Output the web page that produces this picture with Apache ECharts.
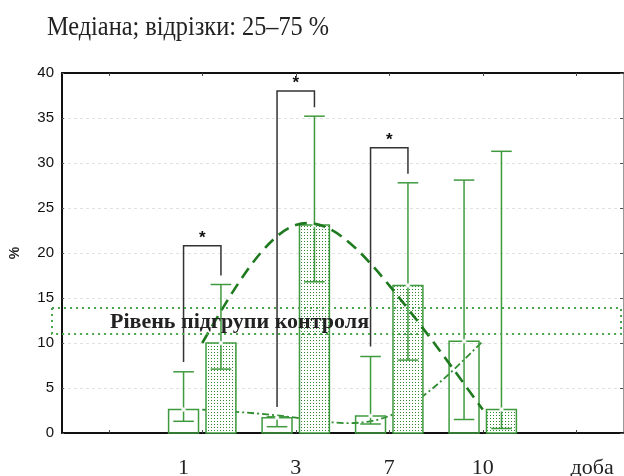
<!DOCTYPE html>
<html>
<head>
<meta charset="utf-8">
<script src="https://cdn.jsdelivr.net/npm/echarts@6/dist/echarts.min.js"></script>
<style>
  html, body { margin: 0; padding: 0; background: #fff; }
  #chart { width: 624px; height: 476px; }
</style>
</head>
<body>
<div id="chart"></div>
<script>
// Days of observation
const days = ['1', '3', '7', '10'];

// Outline bars: median with 25–75 % whiskers
const openMedian = [2.6, 1.7, 1.9, 10.2];
const openQ1 = [1.3, 0.7, 1.0, 1.5];
const openQ3 = [6.8, 1.8, 8.5, 28.1];

// Dotted bars: median with 25–75 % whiskers
const dotMedian = [10.0, 23.1, 16.4, 2.6];
const dotQ1 = [7.1, 16.8, 8.1, 0.5];
const dotQ3 = [16.5, 35.2, 27.8, 31.3];

// Significance brackets (days 1, 3, 7): bracket height
const bracketTop = [20.8, 38.0, 31.7];

// Control subgroup level: band bounds
const controlBand = [11.0, 13.9];

// Y axis ticks
const yTicks = [0, 5, 10, 15, 20, 25, 30, 35, 40];

const GREEN = '#3f9a3f';
const DARK_GREEN = '#1f7a1f';
const OFFSET = 0.2;      // half-distance between the two bars of a day
const BAR_W = 0.32;      // bar width in axis units
const CAP_W = 0.22;      // whisker cap width in axis units

// Label placement along the day axis
const dayLabelAt = [0.8, 2, 3, 4];
const unitLabelAt = 5.17;
const xLabelMap = {};
dayLabelAt.forEach((v, i) => { xLabelMap[v] = days[i]; });
xLabelMap[unitLabelAt] = 'доба';

function dotPattern() {
  const c = document.createElement('canvas');
  c.width = 3; c.height = 3;
  const ctx = c.getContext('2d');
  ctx.fillStyle = '#ffffff';
  ctx.fillRect(0, 0, 3, 3);
  ctx.fillStyle = '#2e8a2e';
  ctx.fillRect(1, 1, 1, 1);
  return c;
}
const PATTERN = dotPattern();

// Natural cubic spline through pixel points, returned as SVG path data
function splinePath(pts) {
  const n = pts.length;
  const x = pts.map(p => p[0]), y = pts.map(p => p[1]);
  const h = [];
  for (let i = 0; i < n - 1; i++) h.push(x[i + 1] - x[i]);
  const M = new Array(n).fill(0);
  if (n > 2) {
    const m = n - 2;
    const a = [], b = [], c = [], d = [];
    for (let i = 1; i <= m; i++) {
      a.push(h[i - 1]);
      b.push(2 * (h[i - 1] + h[i]));
      c.push(h[i]);
      d.push(6 * ((y[i + 1] - y[i]) / h[i] - (y[i] - y[i - 1]) / h[i - 1]));
    }
    for (let i = 1; i < m; i++) {
      const w = a[i] / b[i - 1];
      b[i] -= w * c[i - 1];
      d[i] -= w * d[i - 1];
    }
    const sol = new Array(m);
    sol[m - 1] = d[m - 1] / b[m - 1];
    for (let i = m - 2; i >= 0; i--) sol[i] = (d[i] - c[i] * sol[i + 1]) / b[i];
    for (let i = 0; i < m; i++) M[i + 1] = sol[i];
  }
  let path = 'M' + x[0] + ',' + y[0];
  for (let i = 0; i < n - 1; i++) {
    const s = (y[i + 1] - y[i]) / h[i];
    const d0 = s - h[i] * (2 * M[i] + M[i + 1]) / 6;
    const d1 = s + h[i] * (M[i] + 2 * M[i + 1]) / 6;
    const k = h[i] / 3;
    path += ' C' + (x[i] + k) + ',' + (y[i] + d0 * k) + ' ' +
      (x[i + 1] - k) + ',' + (y[i + 1] - d1 * k) + ' ' + x[i + 1] + ',' + y[i + 1];
  }
  return path;
}

function trendRenderer(values, style) {
  return function (params, api) {
    if (params.dataIndex !== 0) return null;
    const pts = values.map((v, i) => api.coord([i + 1, v]));
    return {
      type: 'path',
      shape: { pathData: splinePath(pts) },
      style: Object.assign({ fill: null }, style)
    };
  };
}

function boxRenderer(dotted) {
  return function (params, api) {
    const g = api.value(0);
    const med = api.value(1), q1 = api.value(2), q3 = api.value(3);
    const x = g + (dotted ? OFFSET : -OFFSET);
    const top = api.coord([x, med]);
    const base = api.coord([x, 0]);
    const lo = api.coord([x, q1]);
    const hi = api.coord([x, q3]);
    const w = api.size([BAR_W, 0])[0];
    const cw = api.size([CAP_W, 0])[0];
    const cx = top[0];
    const lineStyle = { stroke: GREEN, lineWidth: 1.5 };
    return {
      type: 'group',
      children: [
        {
          type: 'rect',
          shape: { x: cx - w / 2, y: top[1], width: w, height: base[1] - top[1] },
          style: {
            fill: dotted ? { image: PATTERN, repeat: 'repeat' } : 'rgba(0,0,0,0)',
            stroke: GREEN, lineWidth: 1.5
          }
        },
        { type: 'line', shape: { x1: cx, y1: lo[1], x2: cx, y2: hi[1] }, style: lineStyle },
        { type: 'line', shape: { x1: cx - cw / 2, y1: hi[1], x2: cx + cw / 2, y2: hi[1] }, style: lineStyle },
        { type: 'line', shape: { x1: cx - cw / 2, y1: lo[1], x2: cx + cw / 2, y2: lo[1] }, style: lineStyle },
        { type: 'circle', shape: { cx: cx, cy: top[1], r: 2 }, style: { fill: '#ffffff', stroke: '#d6ead6', lineWidth: 0.5 } }
      ]
    };
  };
}

function bracketRenderer(params, api) {
  const g = api.value(0);
  const oq3 = api.value(1), dq3 = api.value(2), topV = api.value(3);
  const p0 = api.coord([g - OFFSET, oq3 + 1.1]);
  const p1 = api.coord([g - OFFSET, topV]);
  const p2 = api.coord([g + OFFSET, topV]);
  const p3 = api.coord([g + OFFSET, dq3 + 1.0]);
  return {
    type: 'group',
    children: [
      { type: 'polyline', shape: { points: [p0, p1, p2, p3] }, style: { stroke: '#333', lineWidth: 1.5, fill: null } },
      {
        type: 'text',
        style: {
          text: '*', x: (p1[0] + p2[0]) / 2, y: p1[1] + 1,
          align: 'center', verticalAlign: 'bottom',
          font: 'bold 17px "Liberation Sans"', fill: '#111'
        }
      }
    ]
  };
}

function bandRenderer(params, api) {
  const cs = params.coordSys;
  const lo = api.coord([0, api.value(0)])[1];
  const hi = api.coord([0, api.value(1)])[1];
  return {
    type: 'group',
    children: [
      {
        type: 'rect',
        shape: { x: cs.x - 10, y: hi, width: cs.width + 8, height: lo - hi },
        style: { fill: null, stroke: '#4aa64a', lineWidth: 2, lineDash: [2, 4] }
      },
      {
        type: 'text',
        style: {
          text: 'Рівень підгрупи контроля', x: cs.x + 48, y: (lo + hi) / 2 + 1,
          verticalAlign: 'middle', font: 'bold 22px "Liberation Serif"', fill: '#222'
        }
      }
    ]
  };
}

const openData = days.map((d, i) => [i + 1, openMedian[i], openQ1[i], openQ3[i]]);
const dotData = days.map((d, i) => [i + 1, dotMedian[i], dotQ1[i], dotQ3[i]]);
const bracketData = bracketTop.map((t, i) => [i + 1, openQ3[i], dotQ3[i], t]);

const chart = echarts.init(document.getElementById('chart'), null, { renderer: 'canvas' });

chart.setOption({
  animation: false,
  backgroundColor: '#ffffff',
  graphic: [
    {
      type: 'text', x: 47, y: 14, scaleX: 0.9,
      style: { text: 'Медіана; відрізки: 25–75 %', font: '27px "Liberation Serif"', fill: '#222' }
    }
  ],
  grid: { left: 62, top: 73, right: 1, bottom: 43, containLabel: false, outerBoundsMode: 'none' },
  xAxis: [
    {
      type: 'value', min: -0.5, max: 5.5, position: 'bottom',
      axisLine: { onZero: false, lineStyle: { color: '#111', width: 2 } },
      axisTick: { show: true, inside: true, length: 3, customValues: [0, 1, 2, 3, 4, 5], lineStyle: { color: '#444' } },
      axisLabel: {
        customValues: dayLabelAt.concat([unitLabelAt]),
        formatter: v => xLabelMap[v] || '',
        margin: 24,
        fontFamily: 'Liberation Serif', fontSize: 22, color: '#222'
      },
      splitLine: { show: false }
    },
    {
      type: 'value', min: -0.5, max: 5.5, position: 'top',
      axisLine: { onZero: false, lineStyle: { color: '#111', width: 2 } },
      axisTick: { show: true, inside: true, length: 3, customValues: [0, 1, 2, 3, 4, 5], lineStyle: { color: '#444' } },
      axisLabel: { show: false },
      splitLine: { show: false }
    }
  ],
  yAxis: [
    {
      type: 'value', min: yTicks[0], max: yTicks[yTicks.length - 1], interval: 5, position: 'left',
      name: '%', nameLocation: 'middle', nameGap: 40, nameRotate: 90,
      nameTextStyle: { fontFamily: 'Liberation Sans', fontSize: 14, fontWeight: 'bold', color: '#222' },
      axisLine: { onZero: false, lineStyle: { color: '#111', width: 2 } },
      axisTick: { show: true, inside: true, length: 2, lineStyle: { color: '#555' } },
      axisLabel: { margin: 8, fontFamily: 'Liberation Sans', fontSize: 15, color: '#111' },
      splitLine: { show: true, lineStyle: { color: '#e2e2e2', type: [3, 3] } }
    },
    {
      type: 'value', min: yTicks[0], max: yTicks[yTicks.length - 1], interval: 5, position: 'right',
      axisLine: { show: true, onZero: false, lineStyle: { color: '#999', width: 1 } },
      axisTick: { show: true, inside: true, length: 3, lineStyle: { color: '#555' } },
      axisLabel: { show: false },
      splitLine: { show: false }
    }
  ],
  series: [
    {
      // trend through the outline-bar medians
      type: 'custom', z: 3, clip: true,
      renderItem: trendRenderer(openMedian, { stroke: '#2e8b2e', lineWidth: 1.8, lineDash: [7, 3, 2, 3] }),
      encode: { x: 0, y: 1 }, data: openMedian.map((v, i) => [i + 1, v])
    },
    {
      type: 'custom', z: 4, renderItem: boxRenderer(false),
      encode: { x: 0, y: 1 }, data: openData
    },
    {
      type: 'custom', z: 4, renderItem: boxRenderer(true),
      encode: { x: 0, y: 1 }, data: dotData
    },
    {
      // trend through the dotted-bar medians
      type: 'custom', z: 5, clip: true,
      renderItem: trendRenderer(dotMedian, { stroke: DARK_GREEN, lineWidth: 2.6, lineDash: [12, 7] }),
      encode: { x: 0, y: 1 }, data: dotMedian.map((v, i) => [i + 1, v])
    },
    {
      type: 'custom', z: 6, renderItem: bracketRenderer,
      encode: { x: 0, y: 3 }, data: bracketData
    },
    {
      type: 'custom', z: 7, renderItem: bandRenderer, clip: false,
      encode: { y: [0, 1] }, data: [controlBand]
    }
  ]
});
</script>
</body>
</html>
